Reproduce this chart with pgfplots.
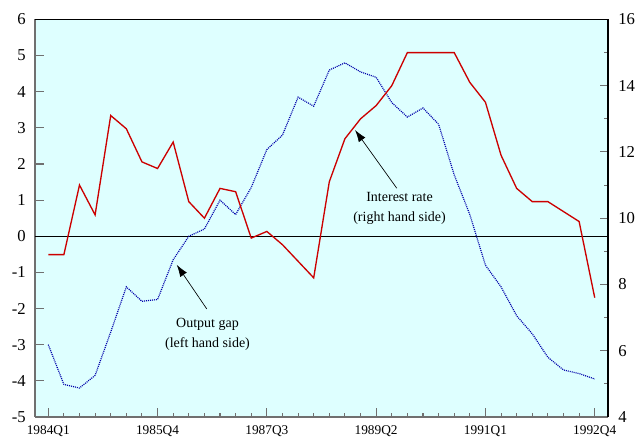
\documentclass[border=0pt]{standalone}
\usepackage{pgfplots}
\pgfplotsset{compat=1.18}
\usepackage{pgfplotstable}
\usepackage{fontspec}
\setmainfont{Liberation Serif}
\usetikzlibrary{arrows.meta}

\definecolor{bgcyan}{RGB}{222,255,255}
\definecolor{ratered}{RGB}{204,0,0}
\definecolor{gapblue}{RGB}{0,0,170}
\definecolor{spinegray}{RGB}{112,112,112}

% Quarterly data, 1984Q1 (index 0) to 1992Q4 (index 35)
\pgfplotstableread{
q gap
0 -3.0
1 -4.1
2 -4.2
3 -3.85
4 -2.65
5 -1.4
6 -1.8
7 -1.75
8 -0.65
9 0.0
10 0.2
11 1.0
12 0.6
13 1.35
14 2.4
15 2.8
16 3.85
17 3.6
18 4.6
19 4.8
20 4.55
21 4.4
22 3.7
23 3.3
24 3.55
25 3.1
26 1.7
27 0.6
28 -0.8
29 -1.4
30 -2.2
31 -2.7
32 -3.35
33 -3.7
34 -3.8
35 -3.95
}\gaptable

\pgfplotstableread{
q rate
0 8.9
1 8.9
2 11.0
3 10.1
4 13.1
5 12.7
6 11.7
7 11.5
8 12.3
9 10.5
10 10.0
11 10.9
12 10.8
13 9.4
14 9.6
15 9.2
16 8.7
17 8.2
18 11.1
19 12.4
20 13.0
21 13.4
22 14.0
23 15.0
24 15.0
25 15.0
26 15.0
27 14.1
28 13.5
29 11.9
30 10.9
31 10.5
32 10.5
33 10.2
34 9.9
35 7.6
}\ratetable

\pgfplotsset{
  common/.style={
    scale only axis,
    width=429.75pt, height=298.1pt,
    xmin=-0.85, xmax=35.85,
    tick align=inside,
    /pgf/number format/assume math mode=true,
    tick style={spinegray, line width=0.8pt},
  },
}

\begin{document}
\begin{tikzpicture}
% Left axis: output gap
\begin{axis}[common,
  axis background/.style={fill=bgcyan},
  axis x line*=bottom, axis y line*=left,
  axis line style={spinegray, line width=1.5pt},
  ymin=-5, ymax=6, ytick={-5,...,6},
  xtick={0,7,14,21,28,35},
  xticklabels={1984Q1,1985Q4,1987Q3,1989Q2,1991Q1,1992Q4},
  minor x tick num=6,
  major tick length=6.5pt, minor tick length=3pt,
  yticklabel style={font=\fontsize{12.5}{14}\selectfont, inner sep=0pt, xshift=-6.75pt},
  xticklabel style={font=\fontsize{10}{12}\selectfont, inner sep=0pt, yshift=-6pt},
]
\addplot[black, line width=0.6pt] coordinates {(-0.85,0) (35.85,0)};
\addplot[gapblue, line width=0.9pt, dash pattern=on 0.75pt off 0.75pt] table[x=q, y=gap] {\gaptable};

\node[font=\fontsize{10.5}{12}\selectfont, anchor=base] at (axis cs:22.5,0.97) {Interest rate};
\node[font=\fontsize{10.5}{12}\selectfont, anchor=base] at (axis cs:22.5,0.42) {(right hand side)};
\draw[black, line width=0.5pt, -{Latex[length=9pt, width=6pt]}] (axis cs:22.32,1.33) -- (axis cs:19.65,2.94);

\node[font=\fontsize{10.5}{12}\selectfont, anchor=base] at (axis cs:10.2,-2.53) {Output gap};
\node[font=\fontsize{10.5}{12}\selectfont, anchor=base] at (axis cs:10.2,-3.07) {(left hand side)};
\draw[black, line width=0.5pt, -{Latex[length=9pt, width=6pt]}] (axis cs:10.15,-2.01) -- (axis cs:8.23,-0.79);
\end{axis}

% Right axis: interest rate
\begin{axis}[common,
  axis x line*=top, axis y line*=right,
  axis line style={black, line width=0.9pt},
  xtick=\empty,
  ymin=4, ymax=16, ytick={4,6,...,16},
  minor y tick num=1,
  major tick length=6pt, minor tick length=3pt,
  yticklabel style={font=\fontsize{12.5}{14}\selectfont, inner sep=0pt, xshift=7.5pt},
]
\addplot[ratered, line width=1pt] table[x=q, y=rate] {\ratetable};
\end{axis}

\pgfresetboundingbox
\useasboundingbox ([xshift=-26.25pt, yshift=-15pt]current axis.south west)
  rectangle ([xshift=22.5pt, yshift=14.6pt]current axis.north east);
\end{tikzpicture}
\end{document}
